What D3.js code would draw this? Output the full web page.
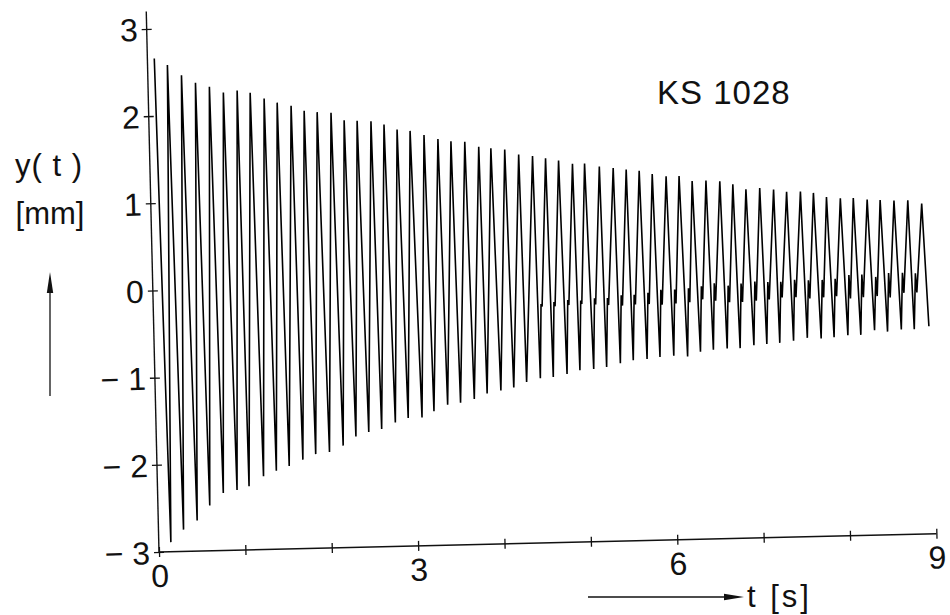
<!DOCTYPE html>
<html>
<head>
<meta charset="utf-8">
<script src="https://cdn.jsdelivr.net/npm/d3@7"></script>
<style>
  html, body { margin: 0; padding: 0; background: #fff; }
  svg { display: block; }
  text { font-family: "Liberation Sans", Arial, sans-serif; fill: #111; }
</style>
</head>
<body>
<svg id="chart" width="950" height="615"></svg>
<script>
// Free-decay record KS 1028: displacement y(t) in mm over time t in s.
// Each cycle is given by its upper turning point and its lower turning point.
const peakT = [0.08, 0.23, 0.39, 0.55, 0.71, 0.87, 1.03, 1.18, 1.34, 1.49,
               1.65, 1.80, 1.95, 2.11, 2.26, 2.41, 2.57, 2.72, 2.87, 3.02,
               3.18, 3.34, 3.49, 3.65, 3.81, 3.95, 4.11, 4.27, 4.43, 4.58,
               4.73, 4.89, 5.03, 5.20, 5.36, 5.51, 5.66, 5.81, 5.97, 6.12,
               6.27, 6.43, 6.59, 6.74, 6.89, 7.05, 7.21, 7.36, 7.52, 7.67,
               7.82, 7.98, 8.13, 8.29, 8.44, 8.60, 8.76, 8.92];
const peakY = [2.66, 2.58, 2.46, 2.37, 2.32, 2.25, 2.27, 2.24, 2.17, 2.12,
               2.08, 2.02, 2.00, 1.99, 1.90, 1.89, 1.88, 1.84, 1.78, 1.76,
               1.71, 1.66, 1.63, 1.62, 1.56, 1.54, 1.52, 1.46, 1.44, 1.41,
               1.38, 1.34, 1.34, 1.30, 1.28, 1.26, 1.24, 1.20, 1.17, 1.17,
               1.11, 1.11, 1.10, 1.06, 1.00, 1.01, 0.99, 0.96, 0.96, 0.94,
               0.89, 0.87, 0.87, 0.85, 0.84, 0.83, 0.83, 0.79];
const troughT = [0.14, 0.29, 0.45, 0.60, 0.76, 0.92, 1.06, 1.23, 1.38, 1.53,
                 1.69, 1.84, 2.00, 2.16, 2.31, 2.46, 2.61, 2.77, 2.92, 3.08,
                 3.22, 3.38, 3.53, 3.69, 3.84, 4.00, 4.15, 4.30, 4.46, 4.61,
                 4.77, 4.92, 5.08, 5.23, 5.39, 5.54, 5.70, 5.85, 6.01, 6.17,
                 6.32, 6.47, 6.63, 6.78, 6.94, 7.09, 7.24, 7.40, 7.56, 7.72,
                 7.87, 8.03, 8.18, 8.34, 8.49, 8.65, 8.80];
const troughY = [-2.89, -2.75, -2.65, -2.48, -2.34, -2.31, -2.27, -2.16, -2.10, -2.05,
                 -1.98, -1.92, -1.90, -1.83, -1.73, -1.68, -1.65, -1.58, -1.53, -1.53,
                 -1.46, -1.39, -1.37, -1.33, -1.27, -1.24, -1.21, -1.15, -1.11, -1.10,
                 -1.07, -1.03, -1.02, -1.00, -0.96, -0.93, -0.92, -0.90, -0.89, -0.90,
                 -0.85, -0.83, -0.82, -0.82, -0.79, -0.78, -0.77, -0.75, -0.72, -0.73,
                 -0.72, -0.70, -0.70, -0.65, -0.67, -0.65, -0.65];
// Small stick-slip wiggle on the rising flank, from the 29th lower turning point on
const wiggleFrom = 28;
const wiggleHigh = [-0.26, -0.24, -0.22, -0.23, -0.21, -0.21, -0.18, -0.18, -0.16, -0.13,
                    -0.13, -0.12, -0.10, -0.07, -0.10, -0.08, -0.06, -0.07, -0.07, -0.05,
                    -0.06, -0.06, -0.05, -0.01, -0.01, -0.04, 0.00, 0.00, -0.01];
const wiggleLow  = [-0.29, -0.29, -0.28, -0.27, -0.28, -0.29, -0.30, -0.29, -0.29, -0.30,
                    -0.29, -0.28, -0.25, -0.27, -0.29, -0.29, -0.28, -0.27, -0.25, -0.25,
                    -0.27, -0.26, -0.25, -0.28, -0.27, -0.26, -0.28, -0.23, -0.23];
const wiggleDt = [0.028, 0.040];   // time after the lower turning point
const endT = 8.97, endY = -0.62;   // last recorded sample

const xTickValues = [0, 1, 2, 3, 4, 5, 6, 7, 8, 9];
const xTickLabels = [0, 3, 6, 9];
const yTickValues = [-3, -2, -1, 0, 1, 2, 3];

// ---- layout ----
const svg = d3.select("#chart");
const ox = 159, oy = 552;            // plot origin (t = 0, y = -3)
const x = d3.scaleLinear().domain([0, 9]).range([ox, ox + 9 * 86.4]);
const y = d3.scaleLinear().domain([-3, 3]).range([oy, oy - 6 * 87.2]);
const ink = "#111";

// the plotter sheet sits slightly askew
const plot = svg.append("g").attr("transform", `rotate(-1.35, ${ox}, ${oy})`);

// ---- signal ----
const pts = [];
peakT.forEach((t, i) => {
  pts.push([t, peakY[i]]);
  if (i < troughT.length) {
    pts.push([troughT[i], troughY[i]]);
    const k = i - wiggleFrom;
    if (k >= 0 && k < wiggleHigh.length) {
      pts.push([troughT[i] + wiggleDt[0], wiggleHigh[k]]);
      pts.push([troughT[i] + wiggleDt[1], wiggleLow[k]]);
    }
  }
});
pts.push([endT, endY]);

const line = d3.line().x(d => x(d[0])).y(d => y(d[1])).curve(d3.curveLinear);
plot.append("path")
  .datum(pts)
  .attr("d", line)
  .attr("fill", "none")
  .attr("stroke", "#000")
  .attr("stroke-width", 1.6)
  .attr("stroke-linejoin", "miter")
  .attr("stroke-miterlimit", 4);

// ---- axes ----
plot.append("line")
  .attr("x1", x(0)).attr("x2", x(0))
  .attr("y1", y(-3)).attr("y2", y(3.2))
  .attr("stroke", ink).attr("stroke-width", 1.4);
plot.append("line")
  .attr("x1", x(0)).attr("x2", x(9))
  .attr("y1", y(-3)).attr("y2", y(-3))
  .attr("stroke", ink).attr("stroke-width", 1.4);

const yAxis = d3.axisLeft(y)
  .tickValues(yTickValues)
  .tickSize(5)
  .tickFormat(d => d < 0 ? "\u2212 " + Math.abs(d) : String(d));
const gy = plot.append("g").attr("transform", `translate(${x(0)},0)`).call(yAxis);
gy.select(".domain").remove();
gy.selectAll(".tick line").attr("x1", -5).attr("x2", 5).attr("stroke", ink).attr("stroke-width", 1.3);
gy.selectAll(".tick text")
  .attr("x", -9).attr("dy", "0.36em")
  .style("font-size", "32px").style("font-family", "'Liberation Sans', Arial, sans-serif")
  .attr("fill", ink);

const xAxis = d3.axisBottom(x)
  .tickValues(xTickValues)
  .tickSize(5)
  .tickFormat(d => xTickLabels.includes(d) ? String(d) : "");
const gx = plot.append("g").attr("transform", `translate(0,${y(-3)})`).call(xAxis);
gx.select(".domain").remove();
gx.selectAll(".tick line").attr("y1", -5).attr("y2", 5).attr("stroke", ink).attr("stroke-width", 1.3);
gx.selectAll(".tick text")
  .attr("y", 35).attr("dy", 0)
  .style("font-size", "32px").style("font-family", "'Liberation Sans', Arial, sans-serif")
  .attr("fill", ink);

// ---- titles and direction arrows ----
svg.append("text").attr("x", 657).attr("y", 104)
  .style("font-size", "33px").style("letter-spacing", "1px")
  .text("KS 1028");

svg.append("text").attr("x", 49).attr("y", 176).attr("text-anchor", "middle")
  .style("font-size", "31px").style("letter-spacing", "1px")
  .text("y( t )");
svg.append("text").attr("x", 50).attr("y", 224).attr("text-anchor", "middle")
  .style("font-size", "31px")
  .text("[mm]");

// upward arrow beside the y label
svg.append("line").attr("x1", 50).attr("x2", 50).attr("y1", 396).attr("y2", 288)
  .attr("stroke", ink).attr("stroke-width", 1.3);
svg.append("path").attr("d", "M50,272 L46.8,293 L53.2,293 Z").attr("fill", ink);

// rightward arrow before the t label
svg.append("line").attr("x1", 588).attr("x2", 728).attr("y1", 597).attr("y2", 597)
  .attr("stroke", ink).attr("stroke-width", 1.3);
svg.append("path").attr("d", "M744,597 L724,593.8 L724,600.2 Z").attr("fill", ink);
svg.append("text").attr("x", 747).attr("y", 607)
  .style("font-size", "31px").style("letter-spacing", "3px")
  .text("t [s]");
</script>
</body>
</html>
